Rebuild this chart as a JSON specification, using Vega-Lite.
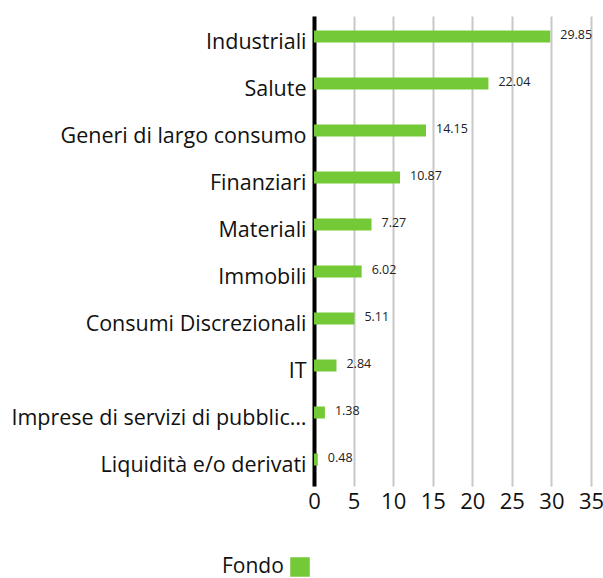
{
  "$schema": "https://vega.github.io/schema/vega-lite/v6.json",
  "width": 277,
  "height": 470,
  "autosize": {"type": "none"},
  "padding": {"left": 314, "top": 16, "right": 12, "bottom": 92},
  "background": "white",
  "config": {"view": {"stroke": null}, "font": "Open Sans"},
  "data": {
    "values": [
      {"settore": "Industriali", "valore": 29.85, "serie": "Fondo"},
      {"settore": "Salute", "valore": 22.04, "serie": "Fondo"},
      {"settore": "Generi di largo consumo", "valore": 14.15, "serie": "Fondo"},
      {"settore": "Finanziari", "valore": 10.87, "serie": "Fondo"},
      {"settore": "Materiali", "valore": 7.27, "serie": "Fondo"},
      {"settore": "Immobili", "valore": 6.02, "serie": "Fondo"},
      {"settore": "Consumi Discrezionali", "valore": 5.11, "serie": "Fondo"},
      {"settore": "IT", "valore": 2.84, "serie": "Fondo"},
      {"settore": "Imprese di servizi di pubblica utilità", "valore": 1.38, "serie": "Fondo"},
      {"settore": "Liquidità e/o derivati", "valore": 0.48, "serie": "Fondo"}
    ]
  },
  "encoding": {
    "y": {
      "field": "settore",
      "type": "nominal",
      "sort": null,
      "title": null,
      "scale": {"paddingInner": 0, "paddingOuter": 0},
      "axis": {
        "domainColor": "black",
        "domainWidth": 4,
        "ticks": false,
        "labelFontSize": 21.5,
        "labelColor": "#111",
        "labelPadding": 8,
        "labelLimit": 298,
        "labelOffset": 3,
        "grid": false
      }
    },
    "x": {
      "field": "valore",
      "type": "quantitative",
      "title": null,
      "scale": {"domain": [0, 35], "nice": false},
      "axis": {
        "values": [0, 5, 10, 15, 20, 25, 30, 35],
        "domain": false,
        "ticks": false,
        "grid": true,
        "gridColor": "#c8c8c8",
        "gridWidth": 2,
        "labelFontSize": 22,
        "labelColor": "#111",
        "labelPadding": 5,
        "labelFlush": false
      }
    }
  },
  "layer": [
    {
      "mark": {"type": "bar", "size": 12, "yOffset": -3},
      "encoding": {
        "color": {
          "field": "serie",
          "type": "nominal",
          "scale": {"range": ["#74c936"]},
          "legend": {
            "orient": "none",
            "legendX": -92,
            "legendY": 541,
            "title": "Fondo",
            "titleOrient": "left",
            "titleFontSize": 21,
            "titleFontWeight": "normal",
            "titleColor": "#111",
            "titleBaseline": "middle",
            "titlePadding": 6,
            "labelExpr": "''",
            "symbolType": "square",
            "symbolSize": 380,
            "symbolStrokeWidth": 0,
            "symbolOpacity": 1
          }
        }
      }
    },
    {
      "mark": {"type": "text", "align": "left", "dx": 10, "dy": -5, "fontSize": 12.5, "color": "#222"},
      "encoding": {
        "text": {"field": "valore", "type": "quantitative", "format": ".2f"}
      }
    }
  ]
}
